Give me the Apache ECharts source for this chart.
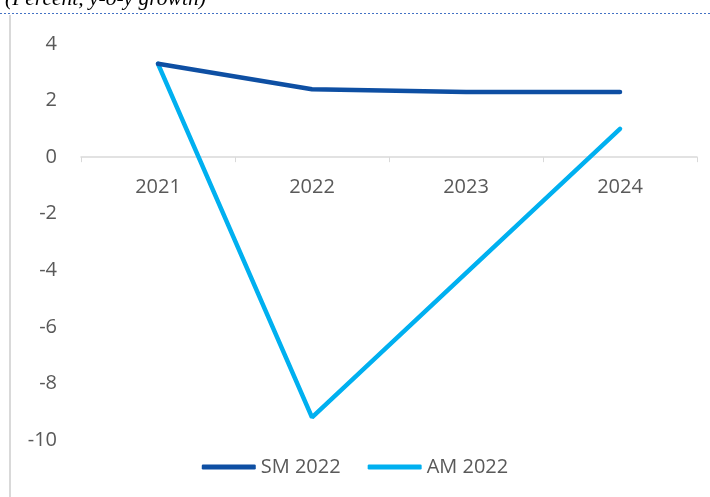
<!DOCTYPE html>
<html>
<head>
<meta charset="utf-8">
<script src="https://cdn.jsdelivr.net/npm/echarts@6/dist/echarts.min.js"></script>
<style>html,body{margin:0;padding:0;background:#fff}#c{width:710px;height:497px}</style>
</head>
<body>
<div id="c"></div>
<script>
// Growth forecasts, percent y-o-y
const years = ['2021', '2022', '2023', '2024'];
const sm2022 = [3.3, 2.4, 2.3, 2.3];
const am2022 = [3.3, -9.2, -4.1, 1.0];
const yTicks = [4, 2, 0, -2, -4, -6, -8, -10];

const yMin = -10, yMax = 4;
const gridTop = 44, gridBottom = 57, chartH = 497;
// distance from the plot bottom up to the zero line
const zeroOffset = (chartH - gridTop - gridBottom) * (0 - yMin) / (yMax - yMin);

const chart = echarts.init(document.getElementById('c'));
const labelFont = { fontFamily: 'Open Sans, Liberation Sans, sans-serif', fontSize: 20, color: '#595959' };

chart.setOption({
  animation: false,
  graphic: [
    { type: 'text', left: 5, top: -12, style: { text: '(Percent, y-o-y growth)', font: 'italic 21.5px "Liberation Serif", serif', fill: '#000' } },
    { type: 'line', shape: { x1: 0, y1: 13.5, x2: 710, y2: 13.5 }, style: { stroke: '#4472C4', lineWidth: 1, lineDash: [2, 2] } },
    { type: 'line', shape: { x1: 10, y1: 15, x2: 10, y2: 497 }, style: { stroke: '#d9d9d9', lineWidth: 2 } }
  ],
  grid: { left: 81, right: 13, top: gridTop, bottom: gridBottom },
  legend: {
    bottom: 15,
    left: 'center',
    icon: 'roundRect',
    itemWidth: 54,
    itemHeight: 5,
    itemGap: 27,
    textStyle: labelFont,
    data: ['SM 2022', 'AM 2022']
  },
  xAxis: {
    type: 'category',
    data: years,
    boundaryGap: true,
    offset: -zeroOffset,
    axisLine: { onZero: false, lineStyle: { color: '#d9d9d9', width: 1.5 } },
    axisTick: { show: true, length: 5, lineStyle: { color: '#d9d9d9' } },
    axisLabel: Object.assign({ margin: 20 }, labelFont),
    splitLine: { show: false }
  },
  yAxis: {
    type: 'value',
    min: yMin,
    max: yMax,
    interval: 2,
    axisLine: { show: false },
    axisTick: { show: false },
    splitLine: { show: false },
    axisLabel: Object.assign({ margin: 24, formatter: v => yTicks.includes(v) ? String(v) : '' }, labelFont)
  },
  series: [
    { name: 'SM 2022', type: 'line', data: sm2022, symbol: 'none', lineStyle: { color: '#0E4FA3', width: 4.5, cap: 'round' }, itemStyle: { color: '#0E4FA3' }, z: 3 },
    { name: 'AM 2022', type: 'line', data: am2022, symbol: 'none', lineStyle: { color: '#00B0F0', width: 4.5, cap: 'round' }, itemStyle: { color: '#00B0F0' }, z: 2 }
  ]
});
</script>
</body>
</html>
